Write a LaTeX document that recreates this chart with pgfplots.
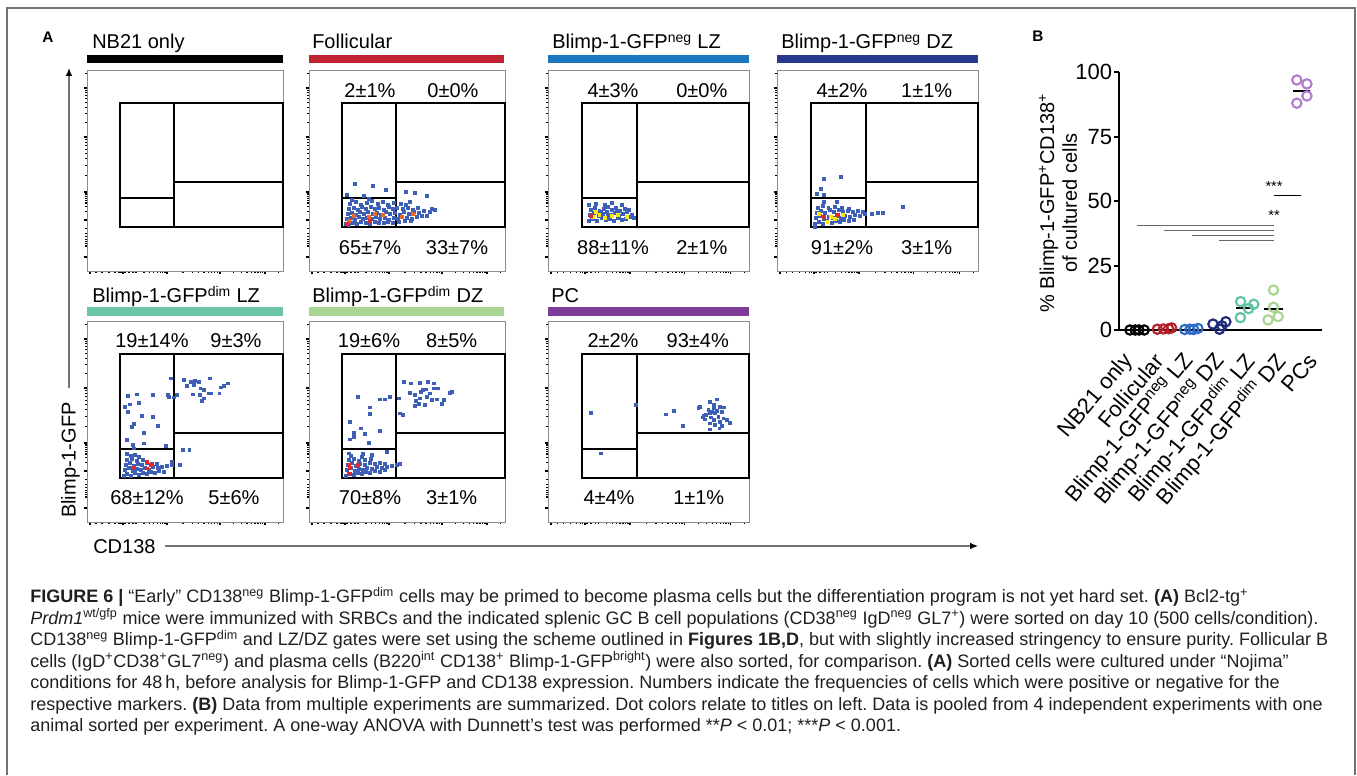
\documentclass[border=0pt]{standalone}
\usepackage{fontspec}
\setmainfont{Liberation Sans}
\newfontfamily\capfamily{Liberation Sans}
\usepackage{pgfplots}
\pgfplotsset{compat=1.18}
\usetikzlibrary{arrows.meta}
\definecolor{dotblue}{HTML}{3D5FB6}
\definecolor{dotorange}{HTML}{F26522}
\definecolor{dotred}{HTML}{E8262A}
\definecolor{dotyellow}{HTML}{FFE800}
\definecolor{cFol}{HTML}{C0222F}
\definecolor{cNegLZ}{HTML}{1B78C0}
\definecolor{cNegDZ}{HTML}{29388F}
\definecolor{cDimLZ}{HTML}{6CC5A5}
\definecolor{cDimDZ}{HTML}{A8D494}
\definecolor{cPC}{HTML}{7D3C98}
\definecolor{bFol}{HTML}{B3202A}
\definecolor{bNegLZ}{HTML}{2E6BC6}
\definecolor{bNegDZ}{HTML}{1F2A7C}
\definecolor{bDimLZ}{HTML}{5FC4A0}
\definecolor{bDimDZ}{HTML}{A6D590}
\definecolor{bPC}{HTML}{B27DCC}
\newcommand\fA{\fontsize{15}{18}\selectfont}
\newcommand\fBB{\fontsize{16.5}{19}\selectfont}
\newcommand\capf{\capfamily\fontsize{13.5}{15}\selectfont}
\pgfplotsset{flow/.style={
  scale only axis, height=150.75pt, xmin=0, xmax=196, ymin=0, ymax=201,
  axis line style={black!45, line width=0.6pt},
  xtick={3,36,80,133,178}, ytick={14,51,79,134,183},
  minor xtick={9,15,22,28,32,34,38,42,46,49,57,62.5,66.8,70.2,73.2,75.7,78,96,105.3,111.9,117,121.2,124.8,127.9,130.6,146.5,154.5,160.1,164.5,168,171,173.6,175.9,191.5},
  minor ytick={24.3,25.7,27.3,29.2,31.4,34.1,37.6,42.6,59.4,64.4,67.9,70.6,72.8,74.7,76.3,77.7,95.6,105.2,112.1,117.4,121.8,125.5,128.7,131.5,148.7,157.4,163.5,168.3,172.1,175.4,178.2,180.7,197.7},
  xticklabels={}, yticklabels={},
  xtick pos=left, ytick pos=left, tick align=outside,
  major tick length=2.6pt, minor tick length=1.5pt,
  tick style={black, line width=0.9pt},
  clip=false, anchor=south west,
}}
\pgfplotsset{blue dots/.style={only marks, mark=square*, mark size=1.1pt, color=dotblue},
  hot dots/.style={only marks, mark=square*, mark size=1.1pt, color=#1},
  bdots/.style={only marks, mark=o, mark size=3.5pt, line width=1.6pt, color=#1}}
\newcommand\gates{%
  \draw[line width=1.6pt] (axis cs:33,44) rectangle (axis cs:196,168);
  \draw[line width=1.6pt] (axis cs:87,44) -- (axis cs:87,168);
  \draw[line width=1.6pt] (axis cs:33,73) -- (axis cs:87,73);
  \draw[line width=1.6pt] (axis cs:87,89) -- (axis cs:196,89);}
\newcommand\lab[3]{\node[font=\fA, anchor=base, inner sep=0] at (axis cs:#1,#2) {#3};}
\begin{document}
\frenchspacing
\begin{tikzpicture}
\begin{scope}[x=0.75pt,y=0.75pt]
\path[use as bounding box] (0,0) rectangle (1357,775);
% outer frame
\draw[black!55, line width=1.1pt] (7,0) -- (7,767) -- (1355,767) -- (1355,0);
% panel letters
\node[font=\fontsize{11.5}{13}\selectfont\bfseries] at (48,738) {A};
\node[font=\fontsize{11.5}{13}\selectfont\bfseries] at (1038,739) {B};
% title bars and titles
\fill[black]   (87,712) rectangle (283,720);
\fill[cFol]    (309,712) rectangle (504,720);
\fill[cNegLZ]  (548,712) rectangle (749,720);
\fill[cNegDZ]  (777,712) rectangle (978,720);
\fill[cDimLZ]  (87,459) rectangle (283,468);
\fill[cDimDZ]  (309,459) rectangle (504,468);
\fill[cPC]     (548,459) rectangle (749,468);
\node[font=\fA, anchor=base west, inner sep=0] at (92,726) {NB21 only};
\node[font=\fA, anchor=base west, inner sep=0] at (312,726) {Follicular};
\node[font=\fA, anchor=base west, inner sep=0] at (552,726) {Blimp-1-GFP\textsuperscript{neg} LZ};
\node[font=\fA, anchor=base west, inner sep=0] at (781,726) {Blimp-1-GFP\textsuperscript{neg} DZ};
\node[font=\fA, anchor=base west, inner sep=0] at (92,472) {Blimp-1-GFP\textsuperscript{dim} LZ};
\node[font=\fA, anchor=base west, inner sep=0] at (312,472) {Blimp-1-GFP\textsuperscript{dim} DZ};
\node[font=\fA, anchor=base west, inner sep=0] at (551,472) {PC};
% global axes of panel A
\draw[black!55, line width=0.9pt, -{Latex[length=6pt,width=5pt,black]}] (69,387) -- (69,707);
\draw[black!55, line width=0.9pt, -{Latex[length=6pt,width=5pt,black]}] (165,229) -- (978,229);
\node[font=\fA, rotate=90] at (70.5,315) {Blimp-1-GFP};
\node[font=\fA, anchor=base west, inner sep=0] at (93,221) {CD138};
% panel B labels
\node[font=\fA, rotate=90, align=center] at (1058,572) {\% Blimp-1-GFP\textsuperscript{+}CD138\textsuperscript{+}\\[-1pt] of cultured cells};
\begin{scope}[every node/.style={font=\fBB, rotate=50, anchor=east, inner sep=0}]
\node at (1129,418) {NB21 only};
\node at (1159,418) {Follicular};
\node at (1190,418) {Blimp-1-GFP\textsuperscript{neg} LZ};
\node at (1221,418) {Blimp-1-GFP\textsuperscript{neg} DZ};
\node at (1251,418) {Blimp-1-GFP\textsuperscript{dim} LZ};
\node at (1282,418) {Blimp-1-GFP\textsuperscript{dim} DZ};
\node at (1313,418) {PCs};
\end{scope}
% caption
\begin{scope}[every node/.style={anchor=base west, inner sep=0, font=\capf, text=black!88}]
\node at (30,172) {\textbf{FIGURE 6 |} “Early” CD138\textsuperscript{neg} Blimp-1-GFP\textsuperscript{dim} cells may be primed to become plasma cells but the differentiation program is not yet hard set. \textbf{(A)} Bcl2-tg\textsuperscript{+}};
\node at (30,150.5) {\textit{Prdm1}\textsuperscript{wt/gfp} mice were immunized with SRBCs and the indicated splenic GC B cell populations (CD38\textsuperscript{neg} IgD\textsuperscript{neg} GL7\textsuperscript{+}) were sorted on day 10 (500 cells/condition).};
\node at (30,129) {CD138\textsuperscript{neg} Blimp-1-GFP\textsuperscript{dim} and LZ/DZ gates were set using the scheme outlined in \textbf{Figures 1B,D}, but with slightly increased stringency to ensure purity. Follicular B};
\node at (30,107.5) {cells (IgD\textsuperscript{+}CD38\textsuperscript{+}GL7\textsuperscript{neg}) and plasma cells (B220\textsuperscript{int} CD138\textsuperscript{+} Blimp-1-GFP\textsuperscript{bright}) were also sorted, for comparison. \textbf{(A)} Sorted cells were cultured under “Nojima”};
\node at (30,86) {conditions for 48\,h, before analysis for Blimp-1-GFP and CD138 expression. Numbers indicate the frequencies of cells which were positive or negative for the};
\node at (30,64.5) {respective markers. \textbf{(B)} Data from multiple experiments are summarized. Dot colors relate to titles on left. Data is pooled from 4 independent experiments with one};
\node at (30,43) {animal sorted per experiment. A one-way ANOVA with Dunnett’s test was performed **\textit{P} < 0.01; ***\textit{P} < 0.001.};
\end{scope}
\end{scope}

% ---------- Plot 1 NB21 only
\begin{axis}[flow, at={(65.25pt,378pt)}, width=147pt]
\gates
\end{axis}
% ---------- Plot 2 Follicular
\begin{axis}[flow, at={(231.75pt,378pt)}, width=147pt]
\addplot[blue dots] coordinates {(37,47)(40,46)(44,48)(48,47)(52,49)(57,48)(61,47)(66,49)(70,48)(75,48)(79,49)(84,48)(90,49)(96,50)(102,50)
(38,52)(42,53)(46,51)(50,54)(54,52)(58,53)(63,52)(67,54)(71,52)(76,53)(80,51)(85,53)(89,52)(93,54)(98,53)(103,52)(108,54)(113,55)(118,55)
(39,57)(43,58)(47,56)(51,59)(55,57)(59,59)(64,57)(68,58)(72,56)(77,59)(81,57)(86,58)(91,56)(95,59)(100,57)(105,59)(110,58)(115,60)(121,59)(126,61)(123,62)
(40,62)(45,63)(49,61)(53,64)(57,62)(62,64)(66,62)(70,63)(75,61)(80,64)(84,62)(88,63)(94,62)(99,63)(104,61)(109,63)
(41,67)(47,69)(52,66)(58,68)(63,70)(69,67)(74,69)(79,66)(85,68)(92,67)(97,66)(43,71)(60,72)(101,69)
(46,87)(64,85)(77,81)(97,79)(106,78)(118,75)(38,76)(55,75)};
\addplot[hot dots=dotorange] coordinates {(40,50)(45,55)(60,54)(66,57)(74,56)(93,54)(104,57)};
\addplot[hot dots=dotred] coordinates {(38,47)(61,50)};
\gates
\lab{61}{173.5}{2±1\%}\lab{144}{173.5}{0±0\%}
\lab{61}{16}{65±7\%}\lab{148}{16}{33±7\%}
\end{axis}
% ---------- Plot 3 neg LZ
\begin{axis}[flow, at={(411pt,378pt)}, width=150.75pt]
\addplot[blue dots] coordinates {(40,50)(44,52)(48,50)(52,53)(56,51)(60,52)(64,50)(68,53)(72,51)(76,52)(80,54)(84,53)
(41,56)(45,58)(49,55)(53,57)(57,59)(61,56)(65,58)(69,55)(73,57)(77,59)(82,56)
(42,61)(46,63)(50,60)(54,62)(58,64)(62,61)(66,63)(70,60)(75,62)(79,61)
(40,66)(47,67)(55,66)(62,68)(72,66)(43,53)(51,59)(67,60)(58,55)};
\addplot[hot dots=dotyellow] coordinates {(44,54)(50,56)(55,53)(62,55)(47,59)(68,56)(77,54)};
\addplot[hot dots=dotred] coordinates {(42,55)};
\gates
\lab{63.4}{173.5}{4±3\%}\lab{150}{173.5}{0±0\%}
\lab{63.4}{16}{88±11\%}\lab{150}{16}{2±1\%}
\end{axis}
% ---------- Plot 4 neg DZ
\begin{axis}[flow, at={(582.75pt,378pt)}, width=150.75pt]
\addplot[blue dots] coordinates {(37,47)(41,49)(45,47)(49,50)(53,48)(57,50)(61,49)(65,51)(70,50)(75,51)
(38,53)(42,55)(46,52)(50,54)(54,53)(58,55)(62,53)(66,55)(71,54)(76,56)(81,55)(86,57)(92,57)(98,58)(103,58)
(39,58)(43,60)(47,58)(51,61)(55,59)(60,61)(64,59)(69,60)(74,59)(79,60)(84,59)
(40,63)(45,65)(50,63)(56,64)(63,63)(70,62)(37,44)(46,69)(58,69)(39,77)(43,82)(46,76)(46,92)(62,94)(123,64)};
\addplot[hot dots=dotyellow] coordinates {(41,57)(52,54)(49,49)(64,56)(56,52)};
\addplot[hot dots=dotred] coordinates {(46,54)(59,56)};
\gates
\lab{63.4}{173.5}{4±2\%}\lab{146}{173.5}{1±1\%}
\lab{63.4}{16}{91±2\%}\lab{146}{16}{3±1\%}
\end{axis}
% ---------- Plot 5 dim LZ
\begin{axis}[flow, at={(65.25pt,189.75pt)}, width=147pt]
\addplot[blue dots] coordinates {(84,143.7)(97,142)(103.7,140.3)(108,141)(111.7,140.3)(123,143.7)(99.7,136)(107,137)(113.3,133.7)(117,132)(121.3,128.7)(124,128.7)(132.3,128.7)(133.7,134.7)(137,136)(140.7,138.7)(114.7,121.3)(117,123.7)(105.7,127.7)(113,127)(89.7,127)(80.7,127)(82,125.3)(86.3,124.7)
(40.7,126)(49.7,127.7)(65.7,127)(42.3,117.7)(37.3,115.3)(51.3,119.3)(40.7,110.3)(54.7,106)(65.7,105.3)(46.3,98)(44.7,95.3)(70.3,96.3)(57,89.3)(39.7,82)(45.7,77)(56.3,78.7)(46.3,73.7)(79,76)(95.7,72)(102.3,72)(39.7,68)(48,67)
(37,46)(40,48)(44,46)(48,49)(52,47)(56,49)(60,48)(64,50)(68,49)(72,51)(77,50)
(38,52)(42,54)(46,51)(50,53)(54,52)(58,54)(62,52)(66,55)(71,54)(75,55)(80,56)(85,57)
(39,57)(43,59)(47,56)(51,58)(55,57)(60,59)(65,58)(70,58)
(40,62)(45,63)(50,61)(56,62)(44,66)(52,65)(84.7,60.3)(93,57)};
\addplot[hot dots=dotred] coordinates {(45.7,54.7)(59.7,60.3)(63.7,57)(59.7,53.7)};
\gates
\lab{65}{174}{19±14\%}\lab{149}{174}{9±3\%}
\lab{60}{17.5}{68±12\%}\lab{147}{17.5}{5±6\%}
\end{axis}
% ---------- Plot 6 dim DZ
\begin{axis}[flow, at={(231.75pt,189.75pt)}, width=147pt]
\addplot[blue dots] coordinates {(94.3,140.3)(101.7,138.7)(110.3,139.3)(118.7,140.3)(124.3,138.7)(101,129.3)(106,127)(111.7,130.3)(113.7,132)(117,132.7)(121,128.7)(124.3,133.7)(128.3,133.7)(107,121.3)(111,123.7)(117.7,125.3)(122.7,122)(127.7,122.7)(132.7,118)(134.3,122)(142.7,130.3)(141,129.3)(105.3,116)(109.7,118)(116,117)(91,108.7)(93.3,107)(81,125.3)(89.3,123.7)(71,122.7)(76,122.7)
(48.3,125.3)(60.3,114.7)(61,108)(41,100.3)(51.7,93.7)(44.3,89.3)(41,82.7)(44.3,85.3)(56,88)(59.3,79.3)(70.3,91.3)(39.3,68.7)(54,68)(62.7,67)(77.7,70.3)
(37,46)(41,48)(45,47)(49,49)(53,48)(57,50)(61,49)(66,51)(71,50)(76,52)
(38,52)(42,54)(46,51)(50,53)(54,52)(58,54)(63,53)(68,55)(73,54)(78,55)(83,56)(88,57)(91,58)
(39,57)(43,59)(47,56)(51,58)(56,57)(61,59)(66,58)(71,59)(76,58)
(40,62)(45,63)(50,61)(56,62)(62,63)(42,66)(53,65)};
\addplot[hot dots=dotred] coordinates {(39.3,57)(41,53.7)(48.3,57)(39.3,48.7)};
\gates
\lab{60}{174}{19±6\%}\lab{142.7}{174}{8±5\%}
\lab{61}{17.5}{70±8\%}\lab{142.7}{17.5}{3±1\%}
\end{axis}
% ---------- Plot 7 PC
\begin{axis}[flow, at={(411pt,189.75pt)}, width=150.75pt]
\addplot[blue dots] coordinates {(42,109.3)(86,117)(51.5,68.7)(115,107.7)(123,111)(131,96.3)
(157.3,120.3)(164.5,122.7)(161.2,117)(146.5,114.3)(148.2,115.3)(156.3,112)(161.2,113.7)(167.7,115.3)(171.6,114.7)(154,107)(158,108.7)(162.8,109.3)(169.4,110.3)(150.8,104.7)(153,102.7)(158.6,104.7)(161.2,102)(166,105.3)(170.9,103.7)(174.2,102)(177.5,99.3)(167.7,100.3)(162.8,97)(169.4,96)(158,98.7)(158,92.7)(167,93.7)(151.4,106)(164.5,111.3)(159.6,110.3)};
\gates
\lab{63.4}{174}{2±2\%}\lab{146}{174}{93±4\%}
\lab{59.5}{17.5}{4±4\%}\lab{147}{17.5}{1±1\%}
\end{axis}

% ---------- Panel B
\begin{axis}[at={(839.25pt,333.75pt)}, anchor=south west, scale only axis,
  width=152.25pt, height=193.3pt,
  xmin=-0.66, xmax=6.75, ymin=0, ymax=100,
  axis x line=bottom, axis y line=left,
  axis line style={-, line width=2.2pt},
  xtick=\empty,
  ytick={0,25,50,75,100}, yticklabels={0,25,50,75,100},
  yticklabel style={font=\fBB, inner sep=1.5pt},
  tick style={black, line width=1.5pt},
  tick align=outside, major tick length=3.5pt,
  clip=false]
\addplot[bdots=black] coordinates {(-0.26,0)(-0.07,0)(0.07,0)(0.26,0)};
\addplot[bdots=bFol] coordinates {(0.74,0.3)(0.96,0.4)(1.15,0.5)(1.26,0.8)};
\addplot[bdots=bNegLZ] coordinates {(1.74,0.2)(1.93,0.3)(2.07,0.2)(2.22,0.6)};
\addplot[bdots=bNegDZ] coordinates {(2.77,2.3)(3.01,0.3)(3.1,1.6)(3.24,3.2)};
\addplot[bdots=bDimLZ] coordinates {(3.77,4.8)(3.78,11.0)(4.07,8.3)(4.26,10.0)};
\addplot[bdots=bDimDZ] coordinates {(4.98,15.5)(4.98,8.8)(4.78,3.9)(5.15,5.2)};
\addplot[bdots=bPC] coordinates {(5.83,97)(6.2,95.5)(6.2,90.8)(5.83,88)};
\addplot[black, line width=1.6pt] coordinates {(3.62,8.5)(4.2,8.5)};
\addplot[black, line width=1.6pt] coordinates {(4.65,8.3)(5.32,8.3)};
\addplot[black, line width=1.6pt] coordinates {(5.68,92.8)(6.32,92.8)};
\addplot[black!60, line width=0.8pt] coordinates {(0,40.4)(5,40.4)};
\addplot[black!60, line width=0.8pt] coordinates {(1,38.5)(5,38.5)};
\addplot[black!60, line width=0.8pt] coordinates {(2,36.7)(5,36.7)};
\addplot[black!60, line width=0.8pt] coordinates {(3,34.9)(5,34.9)};
\addplot[black, line width=0.6pt] coordinates {(5,52.4)(6,52.4)};
\node[font=\fontsize{11}{12}\selectfont] at (axis cs:5,44.5) {**};
\node[font=\fontsize{11}{12}\selectfont] at (axis cs:5,55.8) {***};
\end{axis}
\end{tikzpicture}
\end{document}
